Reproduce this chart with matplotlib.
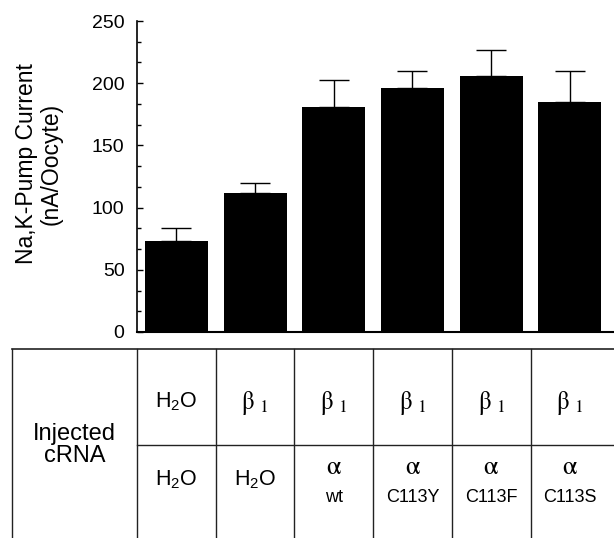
import numpy as np
import matplotlib
matplotlib.use("Agg")
import matplotlib.pyplot as plt
from matplotlib.ticker import MultipleLocator
from matplotlib.transforms import blended_transform_factory

plt.rcParams['font.family'] = ['Liberation Sans', 'DejaVu Sans']
plt.rcParams['mathtext.fontset'] = 'custom'
plt.rcParams['mathtext.rm'] = 'Liberation Sans'
plt.rcParams['mathtext.it'] = 'Liberation Sans:italic'

# data
current = [73.4, 111.5, 180.6, 196.0, 205.8, 184.6]
sem = [10.6, 8.0, 22.2, 13.8, 21.2, 24.9]
beta1 = r'$\mathrm{\beta}_{\;\,1}$'
row_beta = ['H$_{2}$O', beta1, beta1, beta1, beta1, beta1]
row_alpha = ['H$_{2}$O', 'H$_{2}$O', r'$\mathrm{\alpha}$', r'$\mathrm{\alpha}$',
             r'$\mathrm{\alpha}$', r'$\mathrm{\alpha}$']
variants = ['', '', 'wt', 'C113Y', 'C113F', 'C113S']

W, H = 614, 538
fig = plt.figure(figsize=(W / 100, H / 100), dpi=100)
ax = fig.add_axes([137 / W, (H - 332) / H, (W - 137) / W, 311 / H])

x = np.arange(len(current))
ax.bar(x, current, width=0.8, color='black', zorder=2)
ax.errorbar(x, current, yerr=[np.zeros(len(sem)), sem], fmt='none',
            ecolor='black', elinewidth=1.0, capsize=11, capthick=1.0, zorder=1)

ax.set_xlim(-0.5, 5.56)
ax.set_ylim(0, 250)
ax.yaxis.set_major_locator(MultipleLocator(50))
ax.yaxis.set_minor_locator(MultipleLocator(50 / 3))
ax.tick_params(axis='y', which='both', direction='in', labelsize=14, pad=9)
ax.tick_params(axis='y', which='major', length=4, width=1)
ax.tick_params(axis='y', which='minor', length=3, width=1)
ax.set_xticks([])
for s in ['top', 'right']:
    ax.spines[s].set_visible(False)
ax.spines['left'].set_linewidth(1.2)
ax.spines['bottom'].set_linewidth(1.5)

fig.text(39 / W, 1 - 164 / H, 'Na,K-Pump Current\n(nA/Oocyte)', rotation=90,
         ha='center', va='center', multialignment='center', fontsize=16.5, linespacing=1.1)

# table below the bars: x in bar data units, y in figure pixels
trans = blended_transform_factory(ax.transData, fig.transFigure)
fy = lambda py: 1 - py / H
x_left = ax.transData.inverted().transform(fig.transFigure.transform((12 / W, 0)))[0]
lc = '#222222'
ax.plot([x_left, 5.56], [fy(349), fy(349)], color=lc, lw=1.2, transform=trans, clip_on=False)
ax.plot([-0.5, 5.56], [fy(445), fy(445)], color=lc, lw=1.0, transform=trans, clip_on=False)
ax.plot([x_left, x_left], [fy(349), 0], color=lc, lw=1.0, transform=trans, clip_on=False)
for b in np.arange(-0.5, 5, 1):
    ax.plot([b, b], [fy(349), 0], color=lc, lw=1.0, transform=trans, clip_on=False)

ax.text((x_left - 0.5) / 2, fy(445), 'Injected\ncRNA', transform=trans, ha='center', va='center',
        fontsize=17, linespacing=0.95)
for i in x:
    kw = dict(transform=trans, ha='center', va='center', clip_on=False)
    if row_beta[i].startswith('H'):
        ax.text(i, fy(402), row_beta[i], fontsize=15.5, **kw)
    else:
        ax.text(i, fy(403), row_beta[i], fontsize=18, math_fontfamily='stix', **kw)
    if row_alpha[i].startswith('H'):
        ax.text(i, fy(480), row_alpha[i], fontsize=15.5, **kw)
    else:
        ax.text(i, fy(467), row_alpha[i], fontsize=19, math_fontfamily='stix', **kw)
    if variants[i]:
        ax.text(i, fy(497), variants[i], fontsize=13, **kw)

fig.savefig('out.png', dpi=100)
